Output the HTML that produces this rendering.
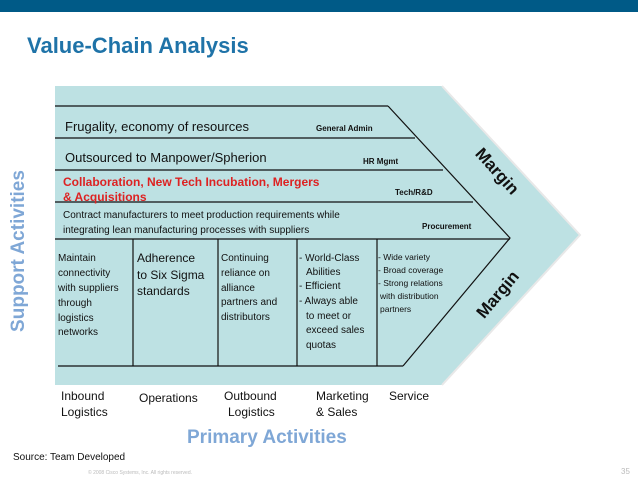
<!DOCTYPE html>
<html><head><meta charset="utf-8"><style>
html,body{margin:0;padding:0;background:#fff;}
svg{display:block;}
text{font-family:"Liberation Sans",sans-serif;}
</style></head><body>
<svg width="638" height="479" viewBox="0 0 638 479" xmlns="http://www.w3.org/2000/svg">
<rect x="0" y="0" width="638" height="12" fill="#005a87"/>
<text x="27" y="53" font-size="22" font-weight="bold" fill="#1f73a8">Value-Chain Analysis</text>
<polygon points="55,86 442,86 580,235 442,385 55,385" fill="#bde1e3"/>
<polyline points="442,86 580,235 442,385" fill="none" stroke="#e8e8e8" stroke-width="2"/>
<g stroke="#111" stroke-width="1.2" fill="none">
<line x1="55" y1="106" x2="388" y2="106"/>
<line x1="55" y1="138" x2="415" y2="138"/>
<line x1="55" y1="170" x2="443" y2="170"/>
<line x1="55" y1="202" x2="473" y2="202"/>
<line x1="55" y1="239" x2="510" y2="239"/>
<polyline points="388,106 510,238 403,366"/>
<line x1="58" y1="366" x2="403" y2="366"/>
<line x1="133" y1="239" x2="133" y2="366"/>
<line x1="218" y1="239" x2="218" y2="366"/>
<line x1="297" y1="239" x2="297" y2="366"/>
<line x1="377" y1="239" x2="377" y2="366"/>
</g>
<g font-size="13" fill="#111">
<text x="65" y="131">Frugality, economy of resources</text>
<text x="65" y="162">Outsourced to Manpower/Spherion</text>
</g>
<g font-size="12" font-weight="bold" fill="#dd2222">
<text x="63" y="186">Collaboration, New Tech Incubation, Mergers</text>
<text x="63" y="201">&amp; Acquisitions</text>
</g>
<g font-size="10" fill="#111">
<text x="63" y="218">Contract manufacturers to meet production requirements while</text>
<text x="63" y="233">integrating lean manufacturing processes with suppliers</text>
</g>
<g font-size="8" font-weight="bold" fill="#111">
<text x="316" y="131">General Admin</text>
<text x="363" y="164">HR Mgmt</text>
<text x="395" y="195">Tech/R&amp;D</text>
<text x="422" y="229">Procurement</text>
</g>
<g font-size="10" fill="#111">
<text x="58" y="261">Maintain</text><text x="58" y="276">connectivity</text><text x="58" y="291">with suppliers</text><text x="58" y="306">through</text><text x="58" y="321">logistics</text><text x="58" y="335">networks</text>
<text x="221" y="261">Continuing</text><text x="221" y="276">reliance on</text><text x="221" y="291">alliance</text><text x="221" y="305">partners and</text><text x="221" y="320">distributors</text>
<text x="299" y="261">- World-Class</text><text x="306" y="275">Abilities</text><text x="299" y="289">- Efficient</text><text x="299" y="304">- Always able</text><text x="306" y="319">to meet or</text><text x="306" y="333">exceed sales</text><text x="306" y="348">quotas</text>
</g>
<g font-size="12" fill="#111">
<text x="137" y="262">Adherence</text><text x="137" y="279">to Six Sigma</text><text x="137" y="295">standards</text>
</g>
<g font-size="8.5" fill="#111">
<text x="378" y="260">- Wide variety</text><text x="378" y="273">- Broad coverage</text><text x="378" y="286">- Strong relations</text><text x="380" y="299">with distribution</text><text x="380" y="312">partners</text>
</g>
<text transform="translate(493,175) rotate(48)" text-anchor="middle" font-size="17" font-weight="bold" fill="#111">Margin</text>
<text transform="translate(502,298) rotate(-50)" text-anchor="middle" font-size="17" font-weight="bold" fill="#111">Margin</text>
<text transform="translate(24,251) rotate(-90)" text-anchor="middle" font-size="19" font-weight="bold" fill="#7fa7d6">Support Activities</text>
<g font-size="12" fill="#111">
<text x="61" y="400">Inbound</text><text x="61" y="416">Logistics</text>
<text x="139" y="402">Operations</text>
<text x="224" y="400">Outbound</text><text x="228" y="416">Logistics</text>
<text x="316" y="400">Marketing</text><text x="316" y="416">&amp; Sales</text>
<text x="389" y="400">Service</text>
</g>
<text x="187" y="443" font-size="19" font-weight="bold" fill="#7fa7d6">Primary Activities</text>
<text x="13" y="460" font-size="10" fill="#111">Source: Team Developed</text>
<text x="88" y="474" font-size="5" fill="#bbb">© 2008 Cisco Systems, Inc. All rights reserved.</text>
<text x="621" y="474" font-size="8" fill="#bbb">35</text>
</svg>
</body></html>
